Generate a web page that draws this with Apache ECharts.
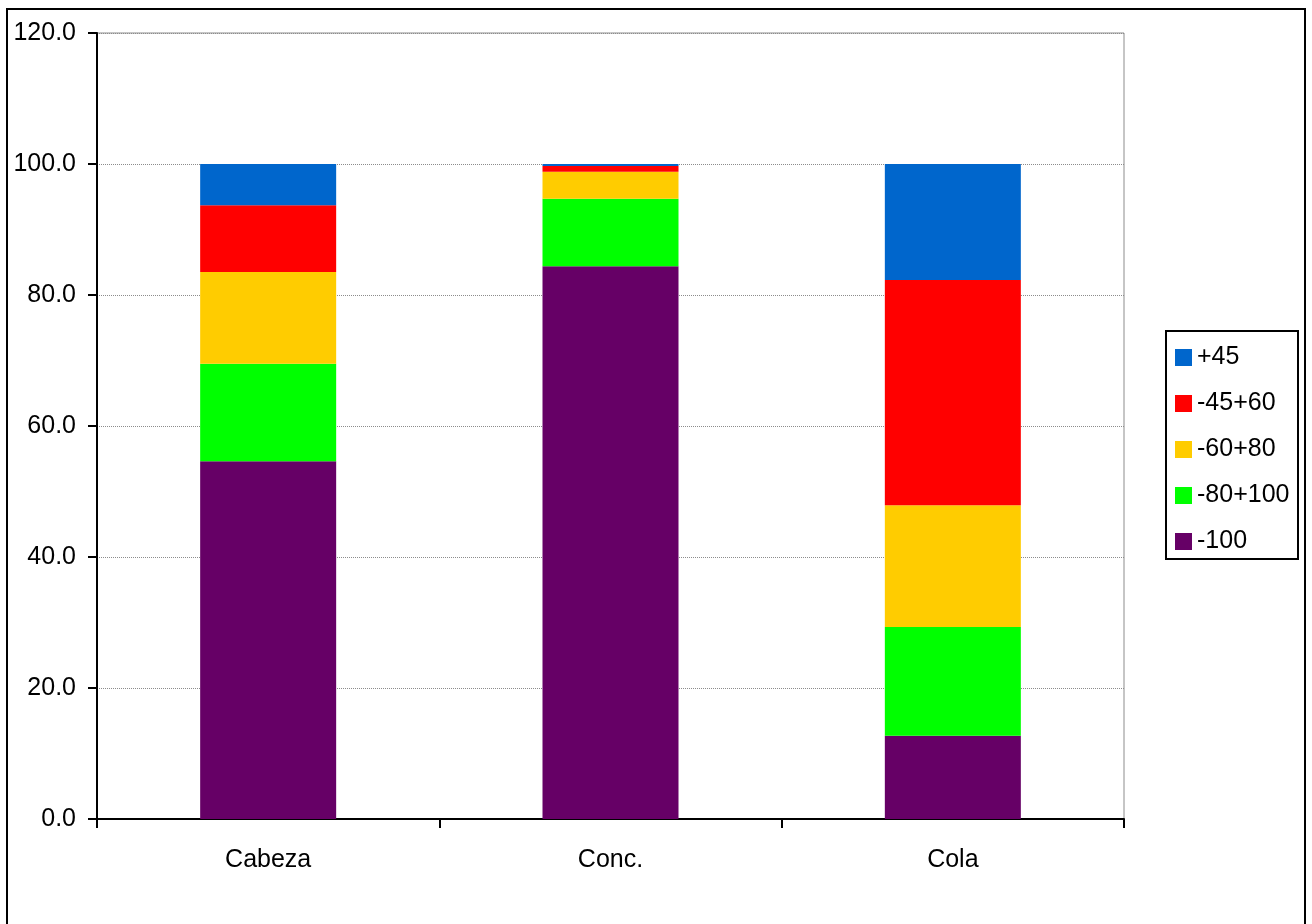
<!DOCTYPE html>
<html>
<head>
<meta charset="utf-8">
<title>Distribución granulométrica</title>
<script src="https://cdn.jsdelivr.net/npm/echarts@6/dist/echarts.min.js"></script>
<style>
  html, body { margin: 0; padding: 0; background: #fff; }
  #chart { width: 1312px; height: 924px; }
</style>
</head>
<body>
<div id="chart"></div>
<script>
// Product streams along the x axis
const categories = ['Cabeza', 'Conc.', 'Cola'];

// Size fractions (% of each stream), stacked bottom to top
const fracMinus100 = [54.6, 84.4, 12.7];
const frac80to100 = [14.9, 10.3, 16.6];
const frac60to80 = [14.0, 4.1, 18.6];
const frac45to60 = [10.2, 0.9, 34.4];
const fracPlus45 = [6.3, 0.3, 17.7];

// Series names, in legend order (top to bottom)
const legendNames = ['+45', '-45+60', '-60+80', '-80+100', '-100'];

// Value axis tick settings
const yMin = 0, yMax = 120, yStep = 20;

const FONT = "'Liberation Sans', Arial, sans-serif";
const FONT_SIZE = 25;

const stackedSeries = [
  { name: '-100', data: fracMinus100, color: '#660066' },
  { name: '-80+100', data: frac80to100, color: '#00FF00' },
  { name: '-60+80', data: frac60to80, color: '#FFCC00' },
  { name: '-45+60', data: frac45to60, color: '#FF0000' },
  { name: '+45', data: fracPlus45, color: '#0066CC' }
].map(s => ({
  name: s.name,
  type: 'bar',
  stack: 'total',
  data: s.data,
  barWidth: 136,
  itemStyle: { color: s.color },
  emphasis: { disabled: true }
}));

const chart = echarts.init(document.getElementById('chart'), null, { renderer: 'canvas' });

chart.setOption({
  animation: false,
  backgroundColor: '#ffffff',
  textStyle: { fontFamily: FONT },
  graphic: [
    {
      // outer frame around the whole chart
      type: 'rect',
      shape: { x: 7, y: 9, width: 1298, height: 930 },
      style: { fill: 'none', stroke: '#000', lineWidth: 2 },
      silent: true,
      z: 0
    },
    {
      // legend box
      type: 'rect',
      shape: { x: 1166, y: 331, width: 132, height: 228 },
      style: { fill: '#fff', stroke: '#000', lineWidth: 2 },
      silent: true,
      z: 1
    }
  ],
  grid: {
    left: 97,
    right: 188,
    top: 33,
    bottom: 105,
    show: true,
    borderColor: '#8c8c8c',
    borderWidth: 1,
    backgroundColor: 'transparent'
  },
  legend: {
    data: legendNames,
    orient: 'vertical',
    left: 1175,
    top: 345,
    padding: 0,
    itemWidth: 17,
    itemHeight: 17,
    itemGap: 21,
    icon: 'rect',
    selectedMode: false,
    textStyle: { fontFamily: FONT, fontSize: FONT_SIZE, color: '#000', lineHeight: 24 },
    z: 5
  },
  xAxis: {
    type: 'category',
    data: categories,
    axisLine: { show: true, lineStyle: { color: '#000', width: 2 } },
    axisTick: { show: true, length: 9, inside: false, alignWithLabel: false, lineStyle: { color: '#000', width: 2 } },
    axisLabel: { fontFamily: FONT, fontSize: FONT_SIZE, color: '#000', margin: 29 },
    splitLine: { show: false }
  },
  yAxis: {
    type: 'value',
    min: yMin,
    max: yMax,
    interval: yStep,
    axisLine: { show: true, lineStyle: { color: '#000', width: 2 } },
    axisTick: { show: true, length: 9, inside: false, lineStyle: { color: '#000', width: 2 } },
    axisLabel: {
      fontFamily: FONT, fontSize: FONT_SIZE, color: '#000', margin: 21,
      formatter: v => v.toFixed(1)
    },
    splitLine: { show: true, lineStyle: { color: '#8c8c8c', width: 1, type: 'dotted' } }
  },
  series: stackedSeries
});
</script>
</body>
</html>
